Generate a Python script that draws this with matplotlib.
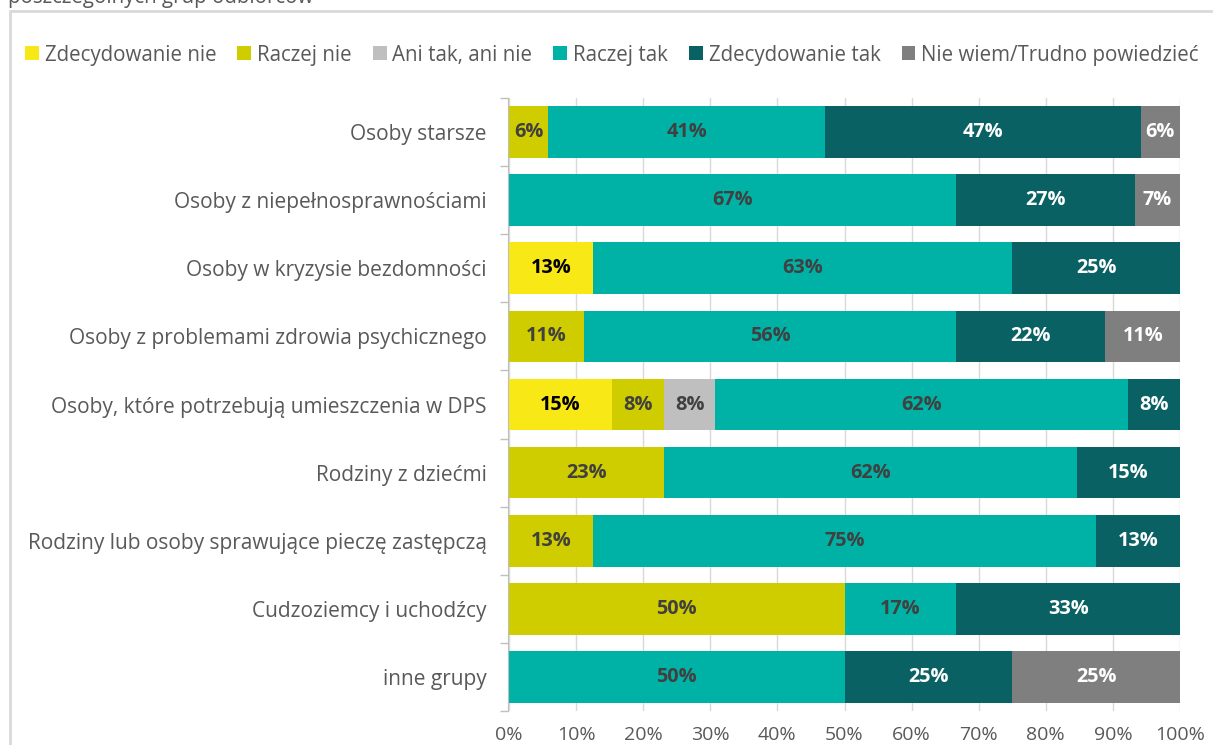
import matplotlib
matplotlib.use("Agg")
from matplotlib import pyplot as plt
from matplotlib.patches import Rectangle
import numpy as np

plt.rcParams['font.family'] = ['Open Sans', 'DejaVu Sans']

# odpowiedzi dla poszczególnych grup (w %)
groups = [
    "Osoby starsze",
    "Osoby z niepełnosprawnościami",
    "Osoby w kryzysie bezdomności",
    "Osoby z problemami zdrowia psychicznego",
    "Osoby, które potrzebują umieszczenia w DPS",
    "Rodziny z dziećmi",
    "Rodziny lub osoby sprawujące pieczę zastępczą",
    "Cudzoziemcy i uchodźcy",
    "inne grupy",
]
zdecydowanie_nie = [0, 0, 12.5, 0, 15.38, 0, 0, 0, 0]
raczej_nie = [5.88, 0, 0, 11.11, 7.69, 23.08, 12.5, 50, 0]
ani_tak_ani_nie = [0, 0, 0, 0, 7.69, 0, 0, 0, 0]
raczej_tak = [41.18, 66.66, 62.5, 55.56, 61.54, 61.54, 75, 16.67, 50]
zdecydowanie_tak = [47.06, 26.67, 25, 22.22, 7.69, 15.38, 12.5, 33.33, 25]
nie_wiem = [5.88, 6.67, 0, 11.11, 0, 0, 0, 0, 25]

series_names = ["Zdecydowanie nie", "Raczej nie", "Ani tak, ani nie",
                "Raczej tak", "Zdecydowanie tak", "Nie wiem/Trudno powiedzieć"]
series = [zdecydowanie_nie, raczej_nie, ani_tak_ani_nie,
          raczej_tak, zdecydowanie_tak, nie_wiem]
colors = ["#F7E816", "#CFCC00", "#BFBFBF", "#00B2A6", "#0A6163", "#7F7F7F"]
label_colors = ["#000000", "#404040", "#404040", "#404040", "#FFFFFF", "#FFFFFF"]

fig = plt.figure(figsize=(12.13, 7.45), dpi=100)
ax = fig.add_axes([509 / 1213, 1 - 711 / 745, (1180 - 509) / 1213, (711 - 98) / 745])

y = np.arange(len(groups))
left = np.zeros(len(groups))
for name, vals, col, lcol in zip(series_names, series, colors, label_colors):
    vals = np.array(vals, dtype=float)
    ax.barh(y, vals, left=left, height=0.76, color=col, label=name, zorder=2)
    for yi, (l, v) in enumerate(zip(left, vals)):
        if v > 0:
            ax.text(l + v / 2, yi, f"{int(v + 0.5)}%", ha='center', va='center',
                    color=lcol, fontsize=14.3, fontweight='bold', zorder=3)
    left += vals

ax.set_xlim(0, 100)
ax.set_ylim(len(groups) - 0.5, -0.5)
ax.set_xticks(np.arange(0, 101, 10))
ax.set_xticklabels([f"{t}%" for t in range(0, 101, 10)])
ax.set_yticks(y)
ax.set_yticklabels(groups)
ax.set_yticks(np.arange(-0.5, len(groups)), minor=True)
ax.tick_params(axis='y', which='major', length=0, pad=15, labelsize=15, labelcolor='#595959')
ax.tick_params(axis='y', which='minor', length=6, color='#BFBFBF', width=1)
ax.tick_params(axis='x', length=0, pad=11, labelsize=14, labelcolor='#595959')
ax.grid(axis='x', color='#D9D9D9', linewidth=1, zorder=0)
for s in ['top', 'right', 'bottom']:
    ax.spines[s].set_visible(False)
ax.spines['left'].set_color('#BFBFBF')
ax.spines['left'].set_position(('outward', 1))

fig.legend(loc='center left', bbox_to_anchor=(25 / 1213, 1 - 55 / 745), ncol=6,
           frameon=False, fontsize=14.8, handlelength=0.68, handleheight=0.68,
           handletextpad=0.28, columnspacing=1.02, labelcolor='#595959', borderaxespad=0,
           borderpad=0)

# ramka obszaru wykresu i ucięty tytuł
fig.add_artist(Rectangle((9.5 / 1213, -0.1), 1.2, 1.1 - 11 / 745, transform=fig.transFigure,
                         fill=False, edgecolor='#D9D9D9', linewidth=2))
fig.text(8 / 1213, 1 - 3 / 745, "poszczególnych grup odbiorców", ha='left', va='baseline',
         fontsize=14.8, color='#595959')

plt.savefig("out.png", dpi=100)
